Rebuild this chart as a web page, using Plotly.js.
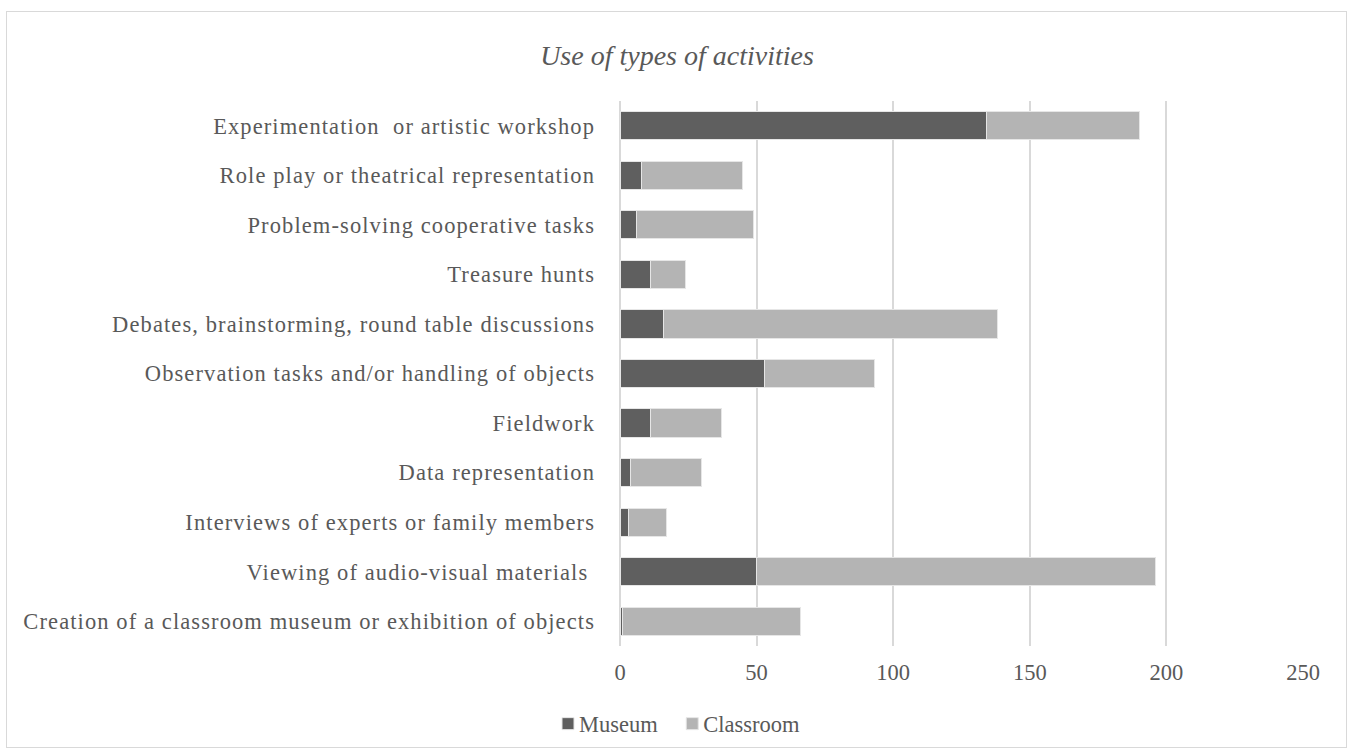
<!DOCTYPE html>
<html>
<head>
<meta charset="utf-8">
<script src="https://cdn.plot.ly/plotly-3.0.1.min.js"></script>
<style>
html,body{margin:0;padding:0;background:#fff;}
#wrap{position:relative;width:1350px;height:751px;}
#chart{width:1350px;height:751px;}
#frame{position:absolute;left:6px;top:11px;width:1341px;height:737px;border:1px solid #d9d9d9;pointer-events:none;box-sizing:border-box;}
#chart .ytick text{letter-spacing:1.1px;}
#chart .legend .legendtext{transform:translate(-9px,0);}
</style>
</head>
<body>
<div id="wrap"><div id="chart"></div><div id="frame"></div></div>
<script>
const categories = [
  "Creation of a classroom museum or exhibition of objects",
  "Viewing of audio-visual materials ",
  "Interviews of experts or family members",
  "Data representation",
  "Fieldwork",
  "Observation tasks and/or handling of objects",
  "Debates, brainstorming, round table discussions",
  "Treasure hunts",
  "Problem-solving cooperative tasks",
  "Role play or theatrical representation",
  "Experimentation  or artistic workshop"
];
const museum =    [1, 50, 3, 4, 11, 53, 16, 11, 6, 8, 134];
const classroom = [65, 146, 14, 26, 26, 40, 122, 13, 43, 37, 56];
const tickVals = [0, 50, 100, 150, 200, 250];

const serif = "Liberation Serif, Times New Roman, serif";
const labelFont = {family: serif, size: 22.5, color: "#595959"};
const tickFont = {family: serif, size: 22.5, color: "#595959"};

const data = [
  {type: "bar", orientation: "h", name: "Museum", y: categories, x: museum,
   marker: {color: "#5f5f5f", line: {color: "#e6e6e6", width: 1}}, hoverinfo: "x+y"},
  {type: "bar", orientation: "h", name: "Classroom", y: categories, x: classroom,
   marker: {color: "#b4b4b4", line: {color: "#e6e6e6", width: 1}}, hoverinfo: "x+y"}
];

const layout = {
  width: 1350, height: 751,
  paper_bgcolor: "#fff", plot_bgcolor: "#fff",
  barmode: "stack", bargap: 0.43,
  margin: {l: 620, r: 47, t: 101, b: 105, pad: 0},
  title: {text: "Use of types of activities", x: 677/1350, xref: "container", xanchor: "center",
          y: 1 - 55/751, yanchor: "middle",
          font: {family: serif, size: 28, style: "italic", color: "#595959"}},
  xaxis: {range: [0, 250], tickvals: tickVals, ticktext: tickVals.map(String),
          showgrid: true, gridcolor: "#d9d9d9", gridwidth: 1.5, zeroline: true, zerolinecolor: "#d9d9d9", zerolinewidth: 1.5,
          showline: false, ticks: "", tickfont: tickFont, ticklabelstandoff: 10, fixedrange: true},
  yaxis: {type: "category", categoryorder: "array", categoryarray: categories,
          showgrid: false, zeroline: false, showline: false, ticks: "",
          tickfont: labelFont, ticklabelstandoff: 24, automargin: false, fixedrange: true},
  showlegend: true,
  legend: {orientation: "h", xref: "container", yref: "container", x: 548/1350, xanchor: "left",
           y: 1 - 724/751, yanchor: "middle", font: tickFont, traceorder: "normal",
           itemwidth: 30, itemclick: false, bgcolor: "rgba(0,0,0,0)"}
};

Plotly.newPlot("chart", data, layout, {displayModeBar: false});
</script>
</body>
</html>
